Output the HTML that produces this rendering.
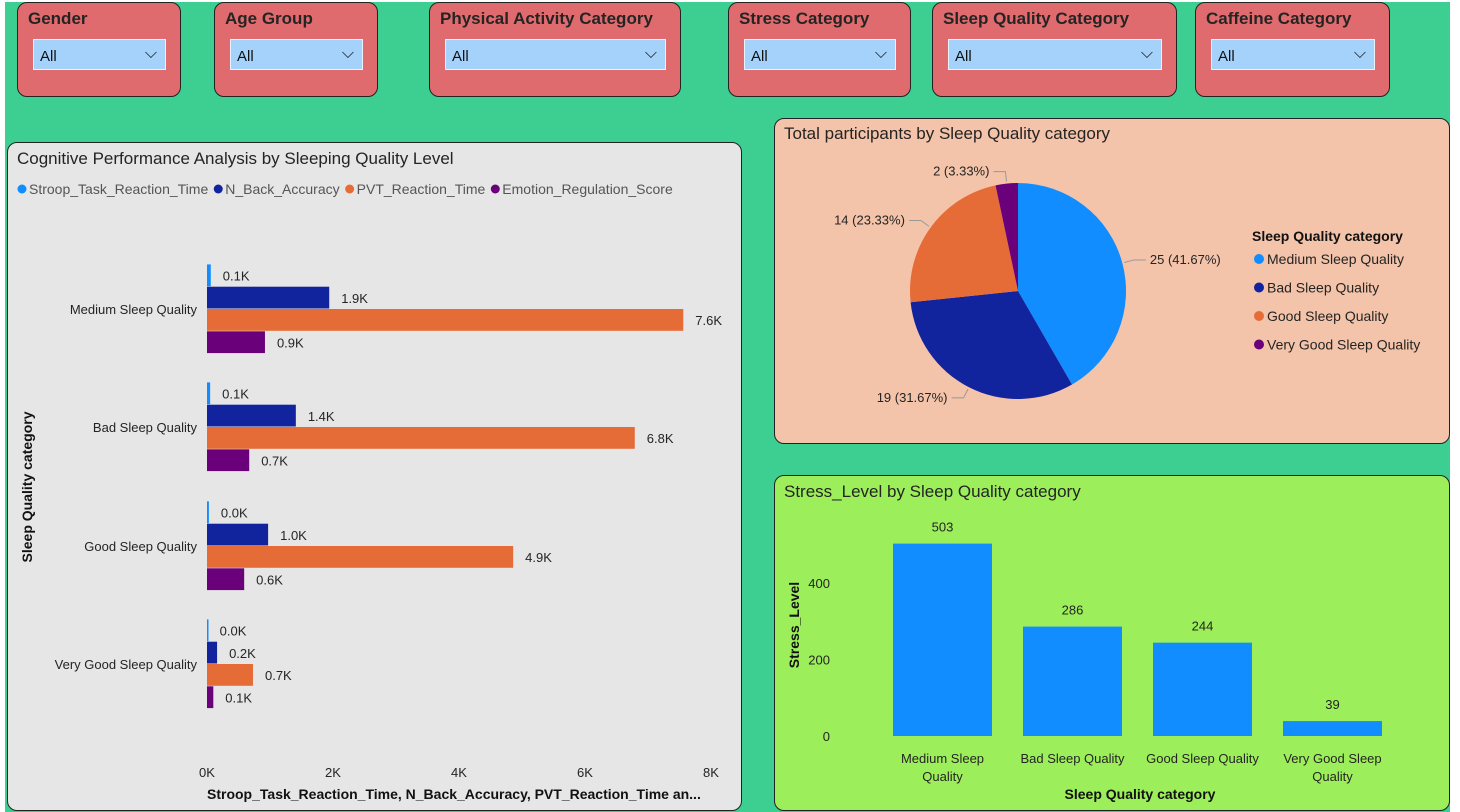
<!DOCTYPE html>
<html><head><meta charset="utf-8"><style>
body{margin:0;width:1460px;height:812px;background:#fff;overflow:hidden;font-family:"Liberation Sans",sans-serif;}
#bg{position:absolute;left:5px;top:2px;width:1445px;height:810px;background:#3ccf91;}
.sl{position:absolute;top:2px;height:95px;background:#e06b6f;border:1px solid #222;border-radius:10px;box-sizing:border-box;}
.sl .t{position:absolute;left:10px;top:6px;font-weight:bold;font-size:17px;color:#252423;}
.sl .dd{position:absolute;left:15px;right:14px;top:36px;height:31px;background:#a4d2fb;border:1px solid #e8f2fc;box-sizing:border-box;font-size:15px;padding:8px 0 0 6px;color:#111;}
.sl .dd span{position:absolute;right:8px;top:5px;font-size:16px;}
.panel{position:absolute;border:1px solid #222;border-radius:10px;box-sizing:border-box;}
svg text{font-family:"Liberation Sans",sans-serif;}
</style></head><body>
<div id="bg"></div>
<div class="sl" style="left:17px;width:164px"><div class="t">Gender</div><div class="dd">All<span>⌵</span></div></div>
<div class="sl" style="left:214px;width:164px"><div class="t">Age Group</div><div class="dd">All<span>⌵</span></div></div>
<div class="sl" style="left:429px;width:252px"><div class="t">Physical Activity Category</div><div class="dd">All<span>⌵</span></div></div>
<div class="sl" style="left:728px;width:183px"><div class="t">Stress Category</div><div class="dd">All<span>⌵</span></div></div>
<div class="sl" style="left:932px;width:245px"><div class="t">Sleep Quality Category</div><div class="dd">All<span>⌵</span></div></div>
<div class="sl" style="left:1195px;width:195px"><div class="t">Caffeine Category</div><div class="dd">All<span>⌵</span></div></div>

<div class="panel" style="left:7px;top:142px;width:735px;height:669px;background:#e6e6e6"></div>
<div class="panel" style="left:774px;top:118px;width:676px;height:326px;background:#f3c3aa"></div>
<div class="panel" style="left:774px;top:475px;width:676px;height:336px;background:#9cef5a"></div>

<svg id="svg" width="1460" height="812" style="position:absolute;left:0;top:0"></svg>
<script>
// ---- Bar chart data ----
const barCategories=["Medium Sleep Quality","Bad Sleep Quality","Good Sleep Quality","Very Good Sleep Quality"];
const seriesNames=["Stroop_Task_Reaction_Time","N_Back_Accuracy","PVT_Reaction_Time","Emotion_Regulation_Score"];
const stroopValues=[0.06,0.05,0.03,0.01];
const nbackValues=[1.94,1.41,0.97,0.16];
const pvtValues=[7.56,6.79,4.86,0.73];
const emotionValues=[0.92,0.67,0.59,0.1];
const xTicks=[0,2,4,6,8];
// ---- Pie data ----
const pieCategories=["Medium Sleep Quality","Bad Sleep Quality","Good Sleep Quality","Very Good Sleep Quality"];
const pieValues=[25,19,14,2];
// ---- Stress data ----
const stressCategories=[["Medium Sleep","Quality"],["Bad Sleep Quality"],["Good Sleep Quality"],["Very Good Sleep","Quality"]];
const stressValues=[503,286,244,39];
const yTicks=[0,200,400];

const colors=["#118dff","#12239e","#e66c37","#6b007b"];
const NS="http://www.w3.org/2000/svg";
const svg=document.getElementById('svg');
function mk(tag,attrs,parent){const e=document.createElementNS(NS,tag);for(const k in attrs)e.setAttribute(k,attrs[k]);(parent||svg).appendChild(e);return e;}
function txt(x,y,s,attrs){const e=mk('text',Object.assign({x:x,y:y,'font-size':13,fill:'#252423'},attrs||{}));e.textContent=s;return e;}

// Bar chart
let t=txt(17,164,"Cognitive Performance Analysis by Sleeping Quality Level",{'font-size':17});

let lx=18;
seriesNames.forEach((n,i)=>{
  const c=mk('circle',{cx:lx+4,cy:189,r:4.5,fill:colors[i]});
  
  const e=txt(lx+11,194,n,{'font-size':14,fill:'#555'});
  
  lx+=11+e.getComputedTextLength()+6;
});
const x0=207,pxPerK=63;
const xs=v=>x0+v*pxPerK;
const groupCenters=[309,427,546,664];
const barH=22.3;
const series=[stroopValues,nbackValues,pvtValues,emotionValues];
barCategories.forEach((cat,ci)=>{
  const cy=groupCenters[ci];
  const l=txt(197,cy+5,cat,{'text-anchor':'end'});
  
  series.forEach((arr,si)=>{
    const y=cy-2*barH+si*barH;
    const r=mk('rect',{x:x0,y:y,width:Math.max(xs(arr[ci])-x0,1.5),height:barH-0.5,fill:colors[si]});
    
    
    const v=txt(xs(arr[ci])+12,y+barH/2+5,arr[ci].toFixed(1)+"K");
    
  });
});
xTicks.forEach(k=>{
  const e=txt(xs(k),777,k+"K",{'text-anchor':'middle'});
  
});
t=txt(207,799,"Stroop_Task_Reaction_Time, N_Back_Accuracy, PVT_Reaction_Time an...",{'font-size':14,'font-weight':'bold',fill:'#111'});

t=txt(0,0,"Sleep Quality category",{'font-size':14,'font-weight':'bold',fill:'#111','text-anchor':'middle',transform:'translate(32,487) rotate(-90)'});


// Pie
t=txt(784,139,"Total participants by Sleep Quality category",{'font-size':17});

const pcx=1018,pcy=291,pr=108;
const total=pieValues.reduce((a,b)=>a+b,0);
let ang=0;
pieValues.forEach((v,i)=>{
  const a0=ang,a1=ang+v/total*2*Math.PI;ang=a1;
  const p=(a)=>[pcx+pr*Math.sin(a),pcy-pr*Math.cos(a)];
  const [sx,sy]=p(a0),[ex,ey]=p(a1);
  const large=(a1-a0)>Math.PI?1:0;
  const s=mk('path',{d:`M${pcx},${pcy}L${sx},${sy}A${pr},${pr} 0 ${large} 1 ${ex},${ey}Z`,fill:colors[i]});
  
  const am=(a0+a1)/2;
  const e1=[pcx+(pr+2)*Math.sin(am),pcy-(pr+2)*Math.cos(am)];
  const e2=[pcx+(pr+12)*Math.sin(am),pcy-(pr+12)*Math.cos(am)];
  const right=Math.sin(am)>=0;
  const e3=[e2[0]+(right?12:-12),e2[1]];
  mk('polyline',{points:`${e1} ${e2} ${e3}`,fill:'none',stroke:'#999','stroke-width':1});
  const lab=txt(e3[0]+(right?4:-4),e3[1]+4,v+" ("+(v/total*100).toFixed(2)+"%)",{'text-anchor':right?'start':'end'});
  
});
t=txt(1252,241,"Sleep Quality category",{'font-size':14,'font-weight':'bold',fill:'#111'});

pieCategories.forEach((c,i)=>{
  const y=259+i*28.5;
  const m=mk('circle',{cx:1259,cy:y,r:5,fill:colors[i]});
  
  const e=txt(1267,y+5,c,{'font-size':14});
  
});

// Stress bar chart
t=txt(784,497,"Stress_Level by Sleep Quality category",{'font-size':17});

const yBase=736,pxPerUnit=0.3825;
const ys=v=>yBase-v*pxPerUnit;
const bandStart=893,bandStep=130,bw=99;
stressValues.forEach((v,i)=>{
  const x=bandStart+i*bandStep;
  const r=mk('rect',{x:x,y:ys(v),width:bw,height:yBase-ys(v),fill:'#118dff'});
  
  const l=txt(x+bw/2,ys(v)-12,String(v),{'text-anchor':'middle'});
  
  stressCategories[i].forEach((ln,j)=>{
    const c=txt(x+bw/2,763+j*18,ln,{'text-anchor':'middle'});
    
  });
});
yTicks.forEach(v=>{
  const e=txt(830,ys(v)+5,String(v),{'text-anchor':'end'});
  
});
t=txt(0,0,"Stress_Level",{'font-size':14,'font-weight':'bold',fill:'#111','text-anchor':'middle',transform:'translate(799,625) rotate(-90)'});

t=txt(1140,799,"Sleep Quality category",{'font-size':14,'font-weight':'bold',fill:'#111','text-anchor':'middle'});

</script>
</body></html>
